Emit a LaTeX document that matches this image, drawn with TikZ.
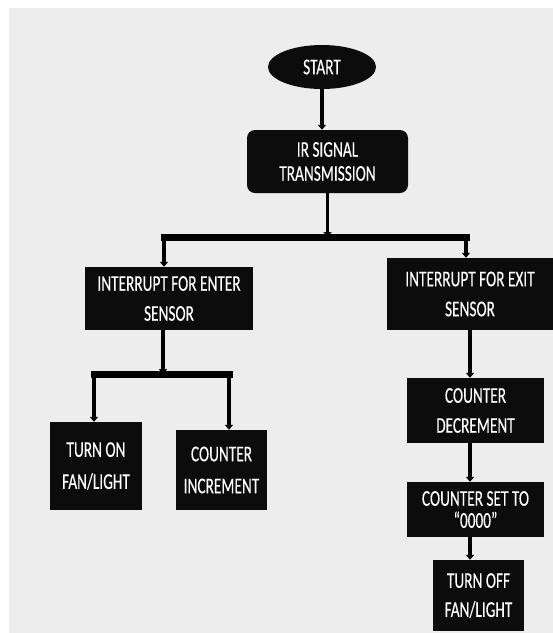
\documentclass[tikz,border=0pt]{standalone}
\usepackage{fontspec}
\usepackage{tikz}
\usetikzlibrary{shapes.geometric,arrows.meta}
\newfontfamily\boxfont[FakeStretch=0.68,FakeBold=0.2]{Carlito}
\definecolor{bggray}{RGB}{237,237,237}
\definecolor{boxblack}{RGB}{12,12,12}

\begin{document}
\begin{tikzpicture}[x=1pt,y=-1pt,
    box/.style={rectangle,fill=boxblack,text=white,inner sep=0pt,align=center,
      font=\boxfont\fontsize{22.5}{30}\selectfont},
    conn/.style={line width=3.5pt,-{Triangle[length=5pt,width=8pt]}},
    bar/.style={line width=7pt,line cap=rect}]
    \useasboundingbox (0,0) rectangle (553,633);
    \fill[white] (0,0) rectangle (553,633);
    \fill[bggray] (9,8) rectangle (553,633);
    \node[box,ellipse,minimum width=108pt,minimum height=44pt] (start) at (322,67) {START};
    \node[box,rounded corners=8pt,minimum width=161pt,minimum height=63pt] (signal) at (327.5,161.5) {IR SIGNAL\\[-6pt]TRANSMISSION};
    \node[box,minimum width=168pt,minimum height=63pt] (enter) at (169,298.5) {INTERRUPT FOR ENTER\\SENSOR};
    \node[box,minimum width=166pt,minimum height=72pt] (exit) at (470,294) {INTERRUPT FOR EXIT\\SENSOR};
    \node[box,minimum width=92pt,minimum height=88pt] (turnon) at (96,466) {TURN ON\\[2pt]FAN/LIGHT};
    \node[box,minimum width=91pt,minimum height=80pt] (increment) at (221.5,470) {COUNTER\\[2pt]INCREMENT};
    \node[box,minimum width=137pt,minimum height=65pt] (decrement) at (475.5,410.5) {COUNTER\\DECREMENT};
    \node[box,minimum width=137pt,minimum height=55pt] (zero) at (475.5,509.5) {COUNTER SET TO\\[-8pt]“0000”};
    \node[box,minimum width=91pt,minimum height=71pt] (turnoff) at (478.5,595.5) {TURN OFF\\[-1pt]FAN/LIGHT};
    \coordinate (barL) at (164,237); \coordinate (barR) at (466,237);
    \coordinate (splitL) at (94,374); \coordinate (splitM) at (163,374); \coordinate (splitR) at (229,374);
    \draw[bar] (barL) -- (barR);
    \draw[bar] (splitL) -- (splitR);
    \path[conn] (start.south) edge (start.south |- signal.north)
    (signal.south) edge (signal.south |- barL)
    (barL) edge (barL |- enter.north) (barR) edge (barR |- exit.north)
    (splitM |- enter.south) edge (splitM)
    (splitL) edge (splitL |- turnon.north) (splitR) edge (splitR |- increment.north)
    (exit.south) edge (exit.south |- decrement.north)
    (exit.south |- decrement.south) edge (exit.south |- zero.north)
    (exit.south |- zero.south) edge (exit.south |- turnoff.north);
  \end{tikzpicture}
\end{document}
